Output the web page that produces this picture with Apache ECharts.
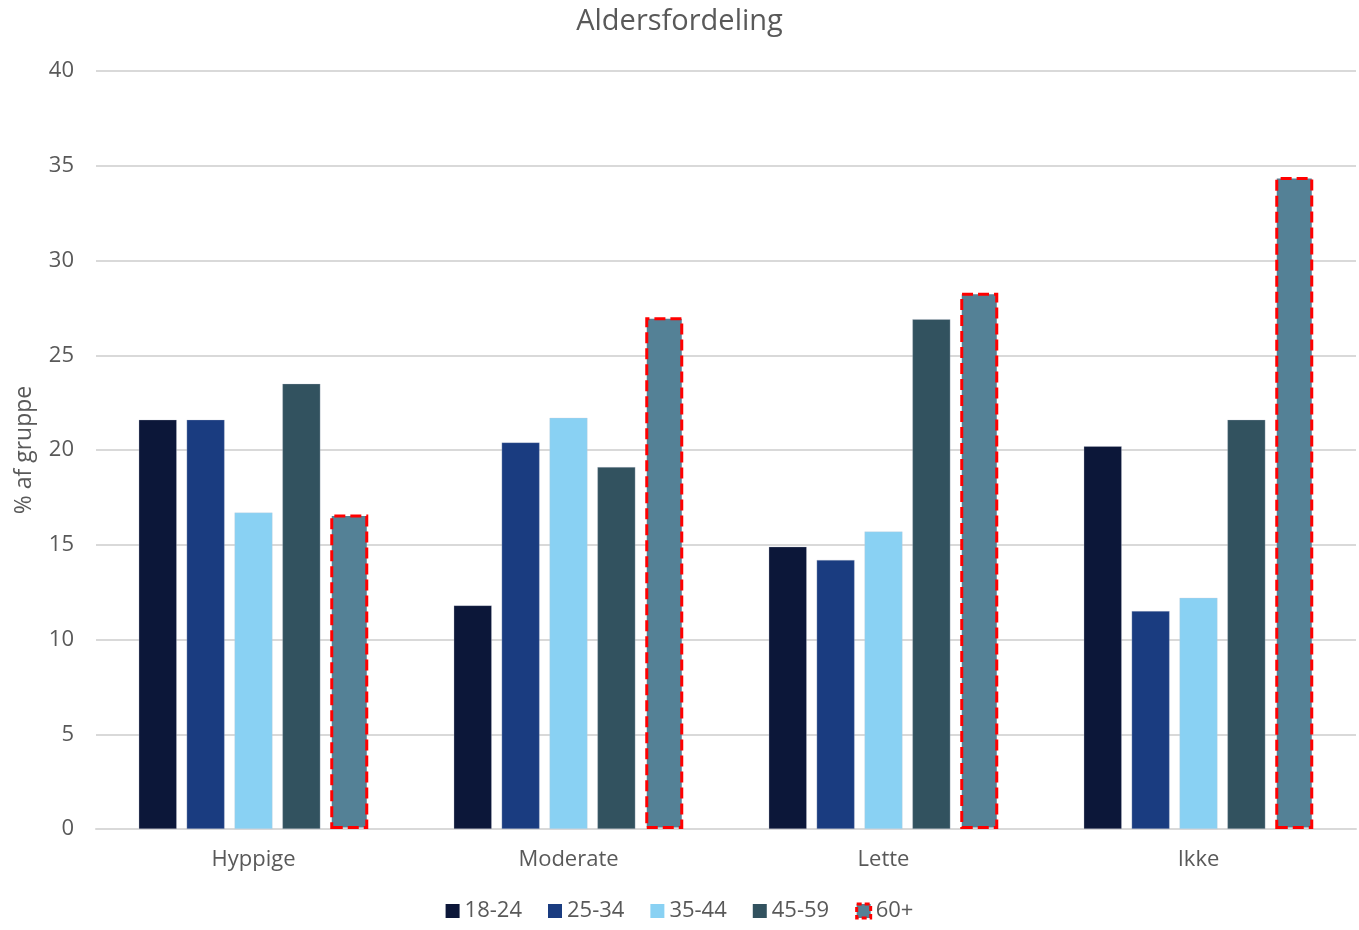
<!DOCTYPE html>
<html>
<head>
<meta charset="utf-8">
<script src="https://cdn.jsdelivr.net/npm/echarts@6/dist/echarts.min.js"></script>
<style>
  html, body { margin: 0; padding: 0; background: #ffffff; }
  #chart { width: 1359px; height: 930px; }
</style>
</head>
<body>
<div id="chart"></div>
<script>
// Frequency groups on the x axis
const categories = ['Hyppige', 'Moderate', 'Lette', 'Ikke'];

// Share of each age group (% af gruppe)
const age18_24 = [21.6, 11.8, 14.9, 20.2];
const age25_34 = [21.6, 20.4, 14.2, 11.5];
const age35_44 = [16.7, 21.7, 15.7, 12.2];
const age45_59 = [23.5, 19.1, 26.9, 21.6];
const age60plus = [16.6, 27.0, 28.3, 34.4];

const seriesNames = ['18-24', '25-34', '35-44', '45-59', '60+'];
const yTicks = { min: 0, max: 40, interval: 5 };

const colors = ['#0c1739', '#1a3c80', '#89d1f3', '#32525f', '#548196'];
const font = '"Open Sans", Lato, sans-serif';
const textColor = '#595959';

function bar(name, data, color, highlight) {
  return {
    name: name,
    type: 'bar',
    data: data,
    barWidth: 38,
    barGap: '26%',
    itemStyle: highlight
      ? { color: color, borderColor: '#ff0000', borderWidth: 3, borderType: [11, 5] }
      : { color: color, borderColor: 'rgba(200,205,215,0.6)', borderWidth: 0.5 }
  };
}

const chart = echarts.init(document.getElementById('chart'), null, { renderer: 'canvas' });
chart.setOption({
  animation: false,
  backgroundColor: '#ffffff',
  title: {
    text: 'Aldersfordeling',
    left: 'center',
    top: 2,
    textStyle: { fontFamily: font, fontSize: 29, fontWeight: 'normal', color: textColor }
  },
  legend: {
    bottom: 3,
    left: 'center',
    itemWidth: 14,
    itemHeight: 14,
    itemGap: 26,
    textStyle: { fontFamily: font, fontSize: 22, color: textColor },
    data: seriesNames.map((n, i) => ({
      name: n,
      icon: 'rect',
      itemStyle: i === 4
        ? { color: colors[4], borderColor: '#ff0000', borderWidth: 3, borderType: [5, 3] }
        : { color: colors[i], borderWidth: 0 }
    }))
  },
  grid: { left: 96, right: 3, top: 71, bottom: 101, containLabel: false },
  xAxis: {
    type: 'category',
    data: categories,
    axisTick: { show: false },
    axisLine: { lineStyle: { color: '#d9d9d9', width: 2 } },
    axisLabel: { fontFamily: font, fontSize: 22, color: textColor, margin: 20 }
  },
  yAxis: {
    type: 'value',
    min: yTicks.min,
    max: yTicks.max,
    interval: yTicks.interval,
    name: '% af gruppe',
    nameLocation: 'middle',
    nameGap: 60,
    nameTextStyle: { fontFamily: font, fontSize: 23, color: textColor },
    axisLine: { show: false },
    axisTick: { show: false },
    axisLabel: { fontFamily: font, fontSize: 22, color: textColor, margin: 22 },
    splitLine: { lineStyle: { color: '#d9d9d9', width: 2 } }
  },
  series: [
    bar(seriesNames[0], age18_24, colors[0], false),
    bar(seriesNames[1], age25_34, colors[1], false),
    bar(seriesNames[2], age35_44, colors[2], false),
    bar(seriesNames[3], age45_59, colors[3], false),
    bar(seriesNames[4], age60plus, colors[4], true)
  ]
});
</script>
</body>
</html>
